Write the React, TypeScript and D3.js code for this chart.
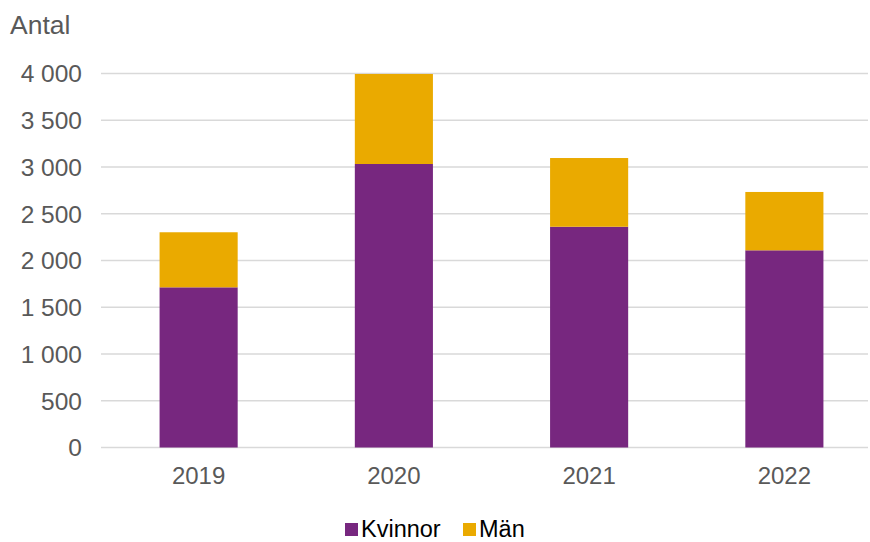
import { useMemo } from "react";
import * as d3 from "d3";

const WIDTH = 870;
const HEIGHT = 542;
const MARGIN = { top: 73.5, right: 0, bottom: 94.5, left: 101 };

const years = ["2019", "2020", "2021", "2022"];
const kvinnor = [1713, 3032, 2361, 2109];
const man = [589, 963, 735, 624];
const yTicks = [0, 500, 1000, 1500, 2000, 2500, 3000, 3500, 4000];
const seriesNames = ["Kvinnor", "Män"];
const seriesColors = ["#77277f", "#eaaa00"];

const FONT = "Liberation Sans, Arial, sans-serif";
const TEXT = "#595959";

const fmt = (v: number) => d3.format(",")(v).replace(/,/g, " ");

export default function App() {
    const boundsHeight = HEIGHT - MARGIN.top - MARGIN.bottom;

    const rows = years.map((y, i) => ({ x: y, Kvinnor: kvinnor[i], Män: man[i] }));
    const series = d3.stack<any>().keys(seriesNames)(rows);

    const yScale = useMemo(
        () => d3.scaleLinear().domain([0, 4000]).range([MARGIN.top + boundsHeight, MARGIN.top]),
        [boundsHeight]
    );
    const xScale = useMemo(
        () => d3.scaleBand<string>().domain(years).range([MARGIN.left, 882]).paddingInner(0.6).paddingOuter(0.3),
        []
    );

    return (
        <svg width={WIDTH} height={HEIGHT} style={{ position: "absolute", left: 0, top: 0 }} fontFamily={FONT}>
            <rect width={WIDTH} height={HEIGHT} fill="#fff" />
            <text x={10} y={34} fontSize={26.5} fill={TEXT}>Antal</text>
            {yTicks.map((t) => (
                <g key={t}>
                    <line x1={MARGIN.left} x2={868} y1={yScale(t)} y2={yScale(t)} stroke="#d9d9d9" strokeWidth={1.5} />
                    <text x={82} y={yScale(t)} dy="0.36em" textAnchor="end" fontSize={24.5} fill={TEXT}>
                        {fmt(t)}
                    </text>
                </g>
            ))}
            {series.map((s, i) => (
                <g key={s.key} fill={seriesColors[i]}>
                    {s.map((d) => (
                        <rect
                            key={d.data.x}
                            x={xScale(d.data.x)}
                            y={yScale(d[1])}
                            width={xScale.bandwidth()}
                            height={yScale(d[0]) - yScale(d[1])}
                        />
                    ))}
                </g>
            ))}
            {years.map((y) => (
                <text key={y} x={(xScale(y) ?? 0) + xScale.bandwidth() / 2} y={484} textAnchor="middle" fontSize={24} fill={TEXT}>
                    {y}
                </text>
            ))}
            <g>
                <rect x={345} y={523} width={13} height={13} fill={seriesColors[0]} />
                <text x={361} y={537} fontSize={23.5} fill="#000">{seriesNames[0]}</text>
                <rect x={463} y={523} width={13} height={13} fill={seriesColors[1]} />
                <text x={479} y={537} fontSize={23.5} fill="#000">{seriesNames[1]}</text>
            </g>
        </svg>
    );
}
